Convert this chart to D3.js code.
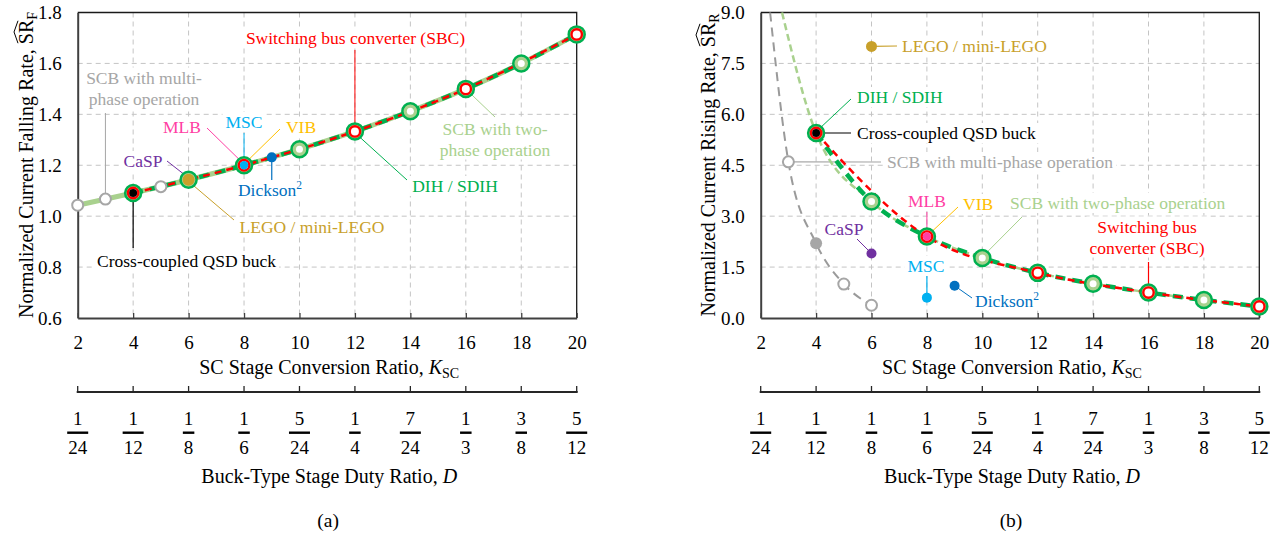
<!DOCTYPE html>
<html><head><meta charset="utf-8">
<script src="https://cdn.jsdelivr.net/npm/d3@7"></script>
<style>
body{margin:0;background:#fff}
svg{display:block}
svg text, svg tspan{font-family:"Liberation Serif","Times New Roman",serif !important}
</style>
</head><body>
<svg id="c" width="1277" height="538" font-family="Liberation Serif, serif"></svg>
<script>
const FONT = '"Liberation Serif","Times New Roman",serif';
// ---------- shared axis data ----------
const kTicks = [2,4,6,8,10,12,14,16,18,20];
const dNum = [1,1,1,1,5,1,7,1,3,5];
const dDen = [24,12,8,6,24,4,24,3,8,12];
const yTicksA = [0.6,0.8,1.0,1.2,1.4,1.6,1.8];
const yTicksB = [0,1.5,3,4.5,6,7.5,9];

// ---------- (a) normalized current falling rate ----------
const aCurveK = [2,4,6,8,10,12,14,16,18,20];
const aScb2   = [1.043,1.091,1.143,1.200,1.263,1.333,1.412,1.500,1.600,1.714];
const aDihK   = [4,6,8,10,12,14,16,18,20];
const aDih    = [1.091,1.143,1.200,1.263,1.333,1.412,1.500,1.600,1.714];
const aSbcK   = [4,8,12,16,20];
const aSbc    = [1.091,1.200,1.333,1.500,1.714];
const aScbMultiK = [2,3,5];
const aScbMulti  = [1.043,1.067,1.116];
const aScb2MarkK = [10,14,18];
const aScb2Mark  = [1.263,1.412,1.600];
const aSingleName = ['QSD','LEGO','MSC','CaSP','Dickson'];
const aSingleK    = [4,6,8,6,9];
const aSingleV    = [1.091,1.143,1.200,1.143,1.231];

// ---------- (b) normalized current rising rate ----------
const bDihK   = [4,6,8,10,12,14,16,18,20];
const bDih    = [5.45,3.43,2.40,1.77,1.33,1.01,0.75,0.53,0.34];
const bScb2K  = [2.77,4,6,8,10,12,14,16,18,20];
const bScb2   = [9.0,5.45,3.43,2.40,1.77,1.33,1.01,0.75,0.53,0.34];
const bSbcK   = [4,8,12,16,20];
const bSbc    = [5.45,2.40,1.33,0.75,0.34];
const bScbMultiK = [2.34,3,4,5,6];
const bScbMulti  = [9.0,4.6,2.2,1.0,0.375];
const bScbMultiMarkK = [3,5,6];
const bScbMultiMark  = [4.6,1.0,0.375];
const bScbMultiFillK = [4];
const bScbMultiFill  = [2.2];
const bScb2MarkK = [6,10,14,18];
const bScb2Mark  = [3.43,1.77,1.01,0.53];
const bSingleName = ['QSD','MLB','LEGO','CaSP','MSC','Dickson'];
const bSingleK    = [4,8,6,6,8,9];
const bSingleV    = [5.45,2.40,8.0,1.9,0.6,0.95];

// ---------- colours ----------
const C = {
  red:'#ff0000', green:'#00b050', lgreen:'#a9d18e', gray:'#a6a6a6',
  gold:'#c8a02a', pink:'#ff3fa4', cyan:'#00b0f0', yellow:'#ffc000',
  purple:'#7030a0', blue:'#0070c0', black:'#000000'
};

const svg = d3.select('#c');
const TOP = 12.5, BOT = 318;

function seg(g,x1,y1,x2,y2,color,w){
  g.append('line').attr('x1',x1).attr('y1',y1).attr('x2',x2).attr('y2',y2)
   .attr('stroke',color).attr('stroke-width',w||1);
}
function label(g,lines,x,y,color,anchor,lh){
  anchor = anchor||'middle'; lh = lh||21;
  const t = g.append('text').attr('fill',color).attr('font-size',17.5)
    .attr('font-family',FONT).attr('text-anchor',anchor);
  const n = lines.length;
  lines.forEach((ln,i)=>{
    const ts = t.append('tspan').attr('x',x).attr('y',y+(i-(n-1)/2)*lh+6);
    if(Array.isArray(ln)){
      ts.text(ln[0]);
      t.append('tspan').attr('font-size',11.5).attr('dy',-7).text(ln[1]);
    } else ts.text(ln);
  });
  const bb = t.node().getBBox();
  g.insert('rect',()=>t.node()).attr('x',bb.x-3).attr('y',bb.y).attr('width',bb.width+6)
   .attr('height',bb.height).attr('fill','#fff');
  return t;
}

function panel(p){
  const g = svg.append('g').attr('font-family',FONT);
  const x = d3.scaleLinear().domain([2,20]).range([p.x0,p.x1]);
  const y = d3.scaleLinear().domain([p.yTicks[0],p.yTicks[p.yTicks.length-1]]).range([BOT,TOP]);
  const dVals = dNum.map((n,i)=>n/dDen[i]);
  const xd = d3.scaleLinear().domain([dVals[0],dVals[dVals.length-1]]).range([p.x0,p.x1]);

  // grid
  const grid = g.append('g').attr('stroke','#c4c4c4').attr('stroke-dasharray','5,4').attr('stroke-width',1);
  grid.append('g').selectAll('line').data(p.yTicks.slice(1,-1)).join('line')
    .attr('x1',p.x0).attr('x2',p.x1).attr('y1',d=>y(d)).attr('y2',d=>y(d));
  grid.append('g').selectAll('line').data(kTicks.slice(1,-1)).join('line')
    .attr('x1',d=>x(d)).attr('x2',d=>x(d)).attr('y1',TOP).attr('y2',BOT);

  // border
  g.append('path').attr('d',`M${p.x0},${TOP}H${p.x1}V${BOT}`).attr('fill','none')
   .attr('stroke','#1a1a1a').attr('stroke-width',1.3);

  // axes
  const xa = g.append('g').attr('transform',`translate(0,${BOT})`)
    .call(d3.axisBottom(x).tickValues(kTicks).tickSize(-5).tickSizeOuter(0).tickPadding(18));
  xa.select('.domain').attr('stroke','#404040').attr('stroke-width',2);
  xa.selectAll('.tick line').attr('stroke','#404040').attr('stroke-width',1.3);
  xa.selectAll('text').attr('font-size',19).attr('fill','#000').attr('font-family',FONT);
  xa.attr('font-family',FONT);

  const ya = g.append('g').attr('transform',`translate(${p.x0},0)`)
    .call(d3.axisLeft(y).tickValues(p.yTicks).tickSize(0).tickSizeOuter(0).tickPadding(16).tickFormat(d3.format('.1f')));
  ya.select('.domain').attr('stroke','#404040').attr('stroke-width',2);
  ya.selectAll('text').attr('font-size',19).attr('fill','#000').attr('font-family',FONT);
  ya.attr('font-family',FONT);

  // x title
  const xt = g.append('text').attr('x',(p.x0+p.x1)/2+2).attr('y',374).attr('text-anchor','middle').attr('font-size',20);
  xt.append('tspan').text('SC Stage Conversion Ratio, ');
  xt.append('tspan').attr('font-style','italic').text('K');
  xt.append('tspan').attr('font-size',14).attr('dy',4).text('SC');

  // secondary axis (duty ratio)
  const da = g.append('g');
  da.append('line').attr('x1',p.x0-1).attr('x2',p.x1+1).attr('y1',392).attr('y2',392)
    .attr('stroke','#262626').attr('stroke-width',2);
  da.selectAll('.dt').data(dVals).join('line')
    .attr('x1',d=>xd(d)).attr('x2',d=>xd(d)).attr('y1',392).attr('y2',386)
    .attr('stroke','#262626').attr('stroke-width',1.3);

  const fr = g.append('g').attr('font-size',19).attr('text-anchor','middle');
  dVals.forEach((v,i)=>{
    const cx = xd(v);
    fr.append('text').attr('x',cx).attr('y',425).text(dNum[i]);
    const den = fr.append('text').attr('x',cx).attr('y',453.5).text(dDen[i]);
    const w = den.node().getComputedTextLength()+2;
    fr.append('rect').attr('x',cx-w/2).attr('y',431.5).attr('width',w).attr('height',2.4).attr('fill','#000');
  });
  const dt = g.append('text').attr('x',(p.x0+p.x1)/2+2).attr('y',483).attr('text-anchor','middle').attr('font-size',20);
  dt.append('tspan').text('Buck-Type Stage Duty Ratio, ');
  dt.append('tspan').attr('font-style','italic').text('D');
  g.append('text').attr('x',(p.x0+p.x1)/2+1).attr('y',527).attr('text-anchor','middle').attr('font-size',19.5).text(p.tag);

  // y title with wide hat
  const yg = g.append('g').attr('transform',`translate(${p.ytx},165) rotate(-90)`);
  const yt = yg.append('text').attr('text-anchor','middle').attr('font-size',20);
  const t1 = yt.append('tspan').text(p.ytitle);
  const t2 = yt.append('tspan').text('SR');
  yt.append('tspan').attr('font-size',14).attr('dy',4).text(p.ysub);
  const total = yt.node().getComputedTextLength();
  const s0 = -total/2 + t1.node().getComputedTextLength();
  const sw = t2.node().getComputedTextLength();
  yg.append('path').attr('d',`M${s0+1},-15 L${s0+sw/2},-19 L${s0+sw-1},-15`)
    .attr('fill','none').attr('stroke','#000').attr('stroke-width',1);

  return {g,x,y};
}

function lineOf(g,x,y,ks,vs,color,w,dash){
  const pts = ks.map((k,i)=>[k,vs[i]]);
  g.append('path').datum(pts)
   .attr('d',d3.line().x(d=>x(d[0])).y(d=>y(d[1])).curve(d3.curveMonotoneX))
   .attr('fill','none').attr('stroke',color).attr('stroke-width',w)
   .attr('stroke-dasharray',dash||null);
}
function dots(g,x,y,ks,vs,r,fill,stroke,sw){
  g.append('g').selectAll('circle').data(ks.map((k,i)=>[k,vs[i]])).join('circle')
   .attr('cx',d=>x(d[0])).attr('cy',d=>y(d[1])).attr('r',r)
   .attr('fill',fill).attr('stroke',stroke||'none').attr('stroke-width',sw||0);
}

// =============== panel (a) ===============
{
  const {g,x,y} = panel({x0:77.7,x1:576.7,yTicks:yTicksA,tag:'(a)',ytx:33,
    ytitle:'Normalized Current Falling Rate, ',ysub:'F'});
  const L = g.append('g'), K = g.append('g'), D = g.append('g'), M = g.append('g');
  const v = n => aSingleV[aSingleName.indexOf(n)], kk = n => aSingleK[aSingleName.indexOf(n)];

  label(L,['Switching bus converter (SBC)'],355.5,38,C.red);
  label(L,['SCB with multi-','phase operation'],144,88,C.gray);
  label(L,['MLB'],182,127,C.pink);
  label(L,['MSC'],244,122,C.cyan);
  label(L,['VIB'],301,127,C.yellow);
  label(L,['CaSP'],143,161,C.purple);
  label(L,[['Dickson','2']],270,190,C.blue);
  label(L,['LEGO / mini-LEGO'],312,227,C.gold);
  label(L,['Cross-coupled QSD buck'],186.5,261,C.black);
  label(L,['DIH / SDIH'],455,186,C.green);
  label(L,['SCB with two-','phase operation'],495,139,C.lgreen);

  seg(K,x(12),50,x(12),y(aSbc[2])-6,C.red);
  seg(K,x(3),113,x(3),y(aScbMulti[1])-6,C.gray);
  seg(K,207,128,x(8)-4,y(v('MSC'))-5,C.pink);
  seg(K,x(8),133,x(8),y(v('MSC'))-6,C.cyan);
  seg(K,280,129,x(8)+4,y(v('MSC'))-5,C.yellow);
  seg(K,167,161,x(6)-4,y(v('CaSP'))-5,C.purple);
  seg(K,x(kk('Dickson')),y(v('Dickson')),x(kk('Dickson')),180,C.blue,1.2);
  seg(K,x(6)+4,y(v('LEGO'))+5,234,220,C.gold);
  seg(K,x(4),y(v('QSD')),x(4),248,C.black,1.2);
  seg(K,x(12)+4,y(aSbc[2])+5,407,180,C.green);
  seg(K,x(16)+5,y(aSbc[3])+5,495,117,C.lgreen);

  lineOf(D,x,y,aCurveK,aScb2,C.lgreen,5);
  lineOf(D,x,y,aDihK,aDih,C.green,4.5,'10,7');
  lineOf(D,x,y,aSbcK,aSbc,C.red,2.5,'7,5');

  dots(M,x,y,aDihK,aDih,8,C.lgreen,C.green,2.5);
  dots(M,x,y,aScb2MarkK,aScb2Mark,3.5,'#fff');
  dots(M,x,y,aScbMultiK,aScbMulti,5.5,'#fff',C.gray,2);
  dots(M,x,y,aSbcK,aSbc,5.2,'#fff',C.red,2.4);
  dots(M,x,y,[kk('QSD')],[v('QSD')],4,C.black);
  dots(M,x,y,[kk('LEGO')],[v('LEGO')],6,C.gold);
  dots(M,x,y,[kk('MSC')],[v('MSC')],4.2,C.cyan);
  dots(M,x,y,[kk('Dickson')],[v('Dickson')],5,C.blue);
}

// =============== panel (b) ===============
{
  const {g,x,y} = panel({x0:760.7,x1:1259.3,yTicks:yTicksB,tag:'(b)',ytx:715,
    ytitle:'Normalized Current Rising Rate, ',ysub:'R'});
  const L = g.append('g'), K = g.append('g'), D = g.append('g'), M = g.append('g');
  const v = n => bSingleV[bSingleName.indexOf(n)], kk = n => bSingleK[bSingleName.indexOf(n)];

  label(L,['LEGO / mini-LEGO'],902,46,C.gold,'start');
  label(L,['DIH / SDIH'],857,97,C.green,'start');
  label(L,['Cross-coupled QSD buck'],857,133,C.black,'start');
  label(L,['SCB with multi-phase operation'],887,162,C.gray,'start');
  label(L,['MLB'],927,201,C.pink);
  label(L,['VIB'],963,204,C.yellow,'start');
  label(L,['SCB with two-phase operation'],1010,203,C.lgreen,'start');
  label(L,['Switching bus','converter (SBC)'],1147,237,C.red);
  label(L,['CaSP'],844,229,C.purple);
  label(L,['MSC'],926,266,C.cyan);
  label(L,[['Dickson','2']],975,300.7,C.blue,'start');

  seg(K,x(kk('LEGO')),y(v('LEGO')),897,46,C.gold,1.2);
  seg(K,x(4)+4,y(v('QSD'))-5,851,99,C.green);
  seg(K,x(4),y(v('QSD')),851,133,C.black,1.2);
  seg(K,x(3),y(bScbMulti[1]),881,162,C.gray,1.2);
  seg(K,x(8),212,x(8),y(v('MLB'))-6,C.pink);
  seg(K,x(8)+5,y(v('MLB'))-5,958,207,C.yellow);
  seg(K,x(10)+4,y(bDih[3])-5,1022,217,C.lgreen);
  seg(K,x(16),262,x(16),y(bSbc[3])-6,C.red,1.2);
  seg(K,857,239,x(kk('CaSP')),y(v('CaSP')),C.purple);
  seg(K,x(kk('MSC')),276,x(kk('MSC')),y(v('MSC')),C.cyan,1.2);
  seg(K,x(kk('Dickson')),y(v('Dickson')),972,298,C.blue);

  lineOf(D,x,y,bScbMultiK,bScbMulti,'#9a9a9a',2,'9,6');
  lineOf(D,x,y,bScb2K,bScb2,C.lgreen,2.5,'7,4');
  lineOf(D,x,y,bDihK,bDih,C.green,4.5,'10,7');
  lineOf(D,x,y,bSbcK,bSbc,C.red,2.5,'7,5');

  dots(M,x,y,bDihK,bDih,8,C.lgreen,C.green,2.5);
  dots(M,x,y,bScb2MarkK,bScb2Mark,3.5,'#fff');
  dots(M,x,y,bSbcK,bSbc,5.2,'#fff',C.red,2.4);
  dots(M,x,y,bScbMultiMarkK,bScbMultiMark,5.5,'#fff',C.gray,2);
  dots(M,x,y,bScbMultiFillK,bScbMultiFill,6,C.gray);
  dots(M,x,y,[kk('QSD')],[v('QSD')],4,C.black);
  dots(M,x,y,[kk('MLB')],[v('MLB')],4.2,C.pink);
  dots(M,x,y,[kk('LEGO')],[v('LEGO')],5.5,C.gold);
  dots(M,x,y,[kk('CaSP')],[v('CaSP')],5,C.purple);
  dots(M,x,y,[kk('MSC')],[v('MSC')],5,C.cyan);
  dots(M,x,y,[kk('Dickson')],[v('Dickson')],5,C.blue);
}
</script>
</body></html>
